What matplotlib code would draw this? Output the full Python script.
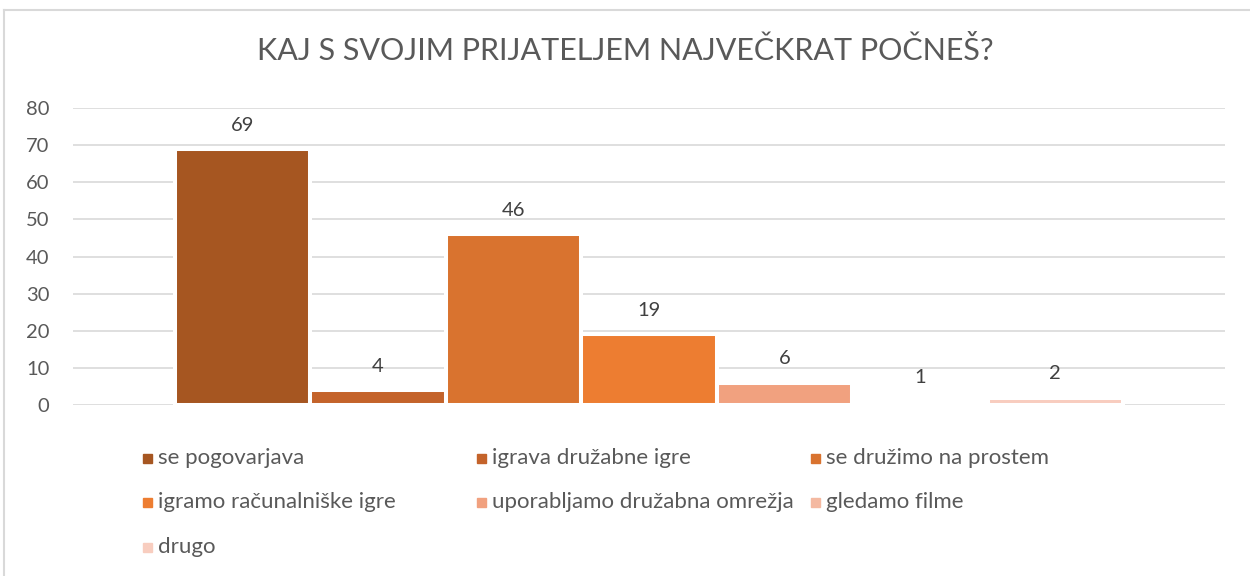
import matplotlib
matplotlib.use("Agg")
import matplotlib.pyplot as plt
from matplotlib.patches import Rectangle
from matplotlib.lines import Line2D

plt.rcParams['font.family'] = ['Lato', 'DejaVu Sans']

title = "KAJ S SVOJIM PRIJATELJEM NAJVEČKRAT POČNEŠ?"
labels = ["se pogovarjava", "igrava družabne igre", "se družimo na prostem",
          "igramo računalniške igre", "uporabljamo družabna omrežja",
          "gledamo filme", "drugo"]
values = [69, 4, 46, 19, 6, 1, 2]
colors = ["#A65621", "#C4632A", "#D9732F", "#ED7D31", "#F1A17F", "#F4B9A1", "#F8CDBF"]
yticks = [0, 10, 20, 30, 40, 50, 60, 70, 80]

W, H = 1250, 576
fig = plt.figure(figsize=(W / 100, H / 100), dpi=100)

# chart border (light grey, cropped at right/bottom)
fig.add_artist(Line2D([4 / W, 1], [1 - 10 / H, 1 - 10 / H], color="#D9D9D9", lw=1.5,
                      transform=fig.transFigure))
fig.add_artist(Line2D([4 / W, 4 / W], [0, 1 - 10 / H], color="#D9D9D9", lw=1.5,
                      transform=fig.transFigure))

ax = fig.add_axes([73 / W, 1 - 405 / H, (1225 - 73) / W, (405 - 108) / H])

n = len(values)
slot = 0.823 / n
for i, (v, c) in enumerate(zip(values, colors)):
    x = (i - (n - 1) / 2) * slot
    ax.bar(x, v, width=slot, color=c, edgecolor="white", linewidth=2.9, zorder=2)
    ax.annotate(str(v), (x, v), xytext=(0, 11), textcoords="offset points",
                ha="center", va="bottom", fontsize=14.5, color="#404040")

ax.set_xlim(-0.5, 0.5)
ax.set_ylim(0, 80)
ax.set_yticks(yticks)
ax.set_xticks([])
ax.grid(axis="y", color="#D9D9D9", lw=1.2, zorder=0)
ax.tick_params(axis="y", length=0, pad=17, labelsize=14.5, labelcolor="#595959")
for s in ax.spines.values():
    s.set_visible(False)

fig.text(0.5, 1 - 50 / H, title, ha="center", va="center", fontsize=22,
         color="#595959")

# legend, row-wise like Excel
for i, (lab, c) in enumerate(zip(labels, colors)):
    row, col = divmod(i, 3)
    mx = 143 + col * 334
    my = 458 + row * 44.5
    fig.add_artist(Rectangle((mx / W, 1 - (my + 4.5) / H), 9 / W, 9 / H,
                             color=c, transform=fig.transFigure))
    fig.text((mx + 15) / W, 1 - my / H, lab, ha="left", va="center",
             fontsize=16, color="#595959")

fig.savefig("out.png", dpi=100)
